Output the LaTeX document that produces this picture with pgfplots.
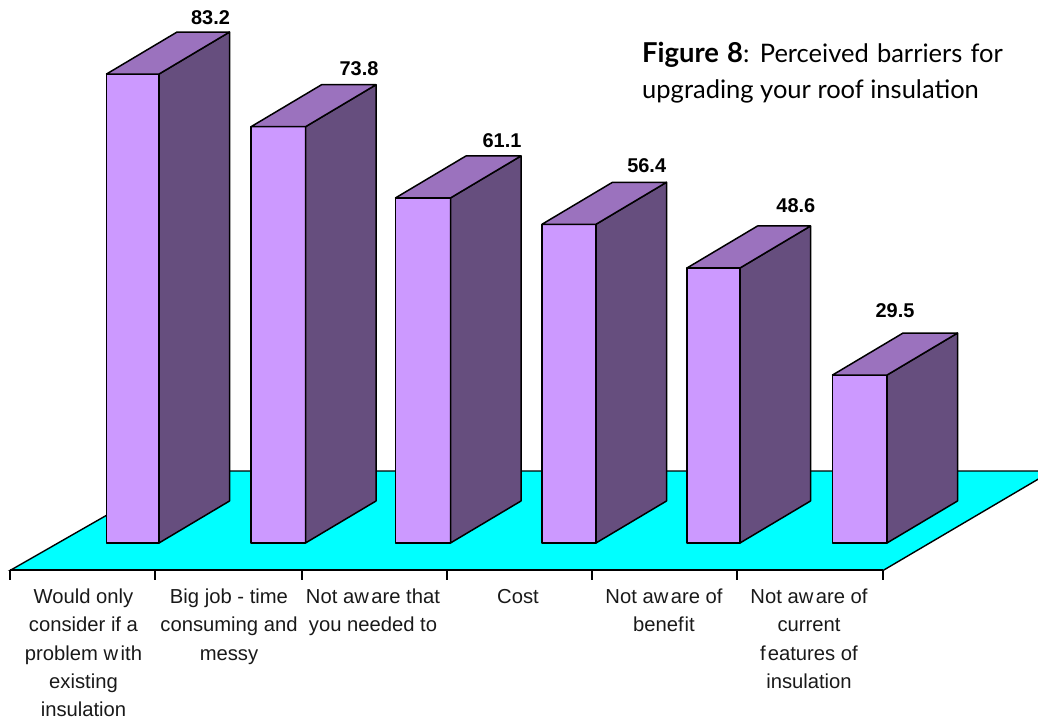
\documentclass[border=0pt]{standalone}
\usepackage{pgfplots}
\pgfplotsset{compat=1.18}
\usepackage{fontspec}
\setmainfont{Liberation Sans}
\newfontfamily\titlefont{Lato}

\definecolor{barfront}{HTML}{CC99FF}
\definecolor{bartop}{HTML}{9B72BE}
\definecolor{barside}{HTML}{664E7E}
\definecolor{floorcol}{HTML}{00FFFF}

% Depth of the extruded bars: 70.5 units across, 7.49 value units up; bars stand on -0.46
\newcommand{\extrudedbar}[3]{%
  \pgfmathsetmacro{\xl}{#1}\pgfmathsetmacro{\xr}{#2}%
  \pgfmathsetmacro{\xlb}{#1+70.5}\pgfmathsetmacro{\xrb}{#2+70.5}%
  \pgfmathsetmacro{\vt}{#3}\pgfmathsetmacro{\vb}{#3+7.49}%
  \addplot[barfront, fill=barfront, draw=black, line width=1.5bp, line join=round]
    coordinates {(\xl,-0.46)(\xr,-0.46)(\xr,\vt)(\xl,\vt)} -- cycle;
  \addplot[barside, fill=barside, draw=black, line width=1.5bp, line join=round]
    coordinates {(\xr,-0.46)(\xrb,7.03)(\xrb,\vb)(\xr,\vt)} -- cycle;
  \addplot[bartop, fill=bartop, draw=black, line width=1.5bp, line join=round]
    coordinates {(\xl,\vt)(\xr,\vt)(\xrb,\vb)(\xlb,\vb)} -- cycle;
}
\newcommand{\wk}{\kern2.5pt}

\begin{document}
\begin{tikzpicture}
\path[use as bounding box] (0,0) rectangle (1038bp,719bp);
\begin{axis}[
  at={(0,148.5bp)}, anchor=south west,
  scale only axis, width=1038bp, height=570.5bp,
  xmin=0, xmax=1038, ymin=-5.37, ymax=96.41,
  axis line style={draw=none},
  ytick=\empty,
  xtick={10,155,302,447,592,737,883},
  xticklabels={,,,,,,},
  xtick pos=lower, tick align=outside,
  major tick length=9bp,
  tick style={draw=black, line width=1.3bp},
  extra x ticks={83.5,229,373,518,664,809},
  extra x tick style={major tick length=0pt, tick style={draw=none}},
  extra x tick labels={
    {Would only\\consider if a\\problem w\wk ith\\existing\\insulation},
    {Big job - time\\consuming and\\messy},
    {Not aw\wk are that\\you needed to},
    {Cost},
    {Not aw\wk are of\\benef\kern1pt it},
    {Not aw\wk are of\\current\\f\kern2pt eatures of\\insulation}},
  x tick label style={align=center, anchor=north, yshift=-15bp,
    font=\fontsize{20.3}{28.3}\selectfont, text=black!90},
  clip=true,
]
% Floor of the chart
\addplot[floorcol, fill=floorcol, draw=black, line width=1.4bp]
  coordinates {(10,-5.37)(883,-5.37)(1052,12.38)(184,12.38)} -- cycle;
\addplot[black, line width=1.9bp] coordinates {(10,-5.2)(883,-5.2)};

\extrudedbar{106.5}{159}{83.2}
\extrudedbar{251}{305.5}{73.8}
\extrudedbar{395.5}{450.5}{61.1}
\extrudedbar{542}{596}{56.4}
\extrudedbar{687}{740}{48.6}
\extrudedbar{832.5}{887}{29.5}

% Value labels
\begin{scope}[every node/.style={font=\fontsize{20}{22}\selectfont\bfseries, text=black, inner sep=0pt}]
\node at (axis cs:210.5,93.3) {83.2};
\node at (axis cs:359,84.2) {73.8};
\node at (axis cs:502,71.35) {61.1};
\node at (axis cs:646.7,66.9) {56.4};
\node at (axis cs:795.8,59.75) {48.6};
\node at (axis cs:895,41.0) {29.5};
\end{scope}

% Figure caption
\node[anchor=base west, inner sep=0pt, font=\titlefont\fontsize{25.6}{28}\selectfont, text=black]
  at (axis cs:642,85.3) {\spaceskip=8.2bp{\fontsize{27.5}{28}\selectfont\textbf{Figure 8}}: Perceived barriers for};
\node[anchor=base west, inner sep=0pt, font=\titlefont\fontsize{25.6}{28}\selectfont, text=black]
  at (axis cs:642,78.75) {upgrading your roof insulation};
\end{axis}
\end{tikzpicture}
\end{document}
